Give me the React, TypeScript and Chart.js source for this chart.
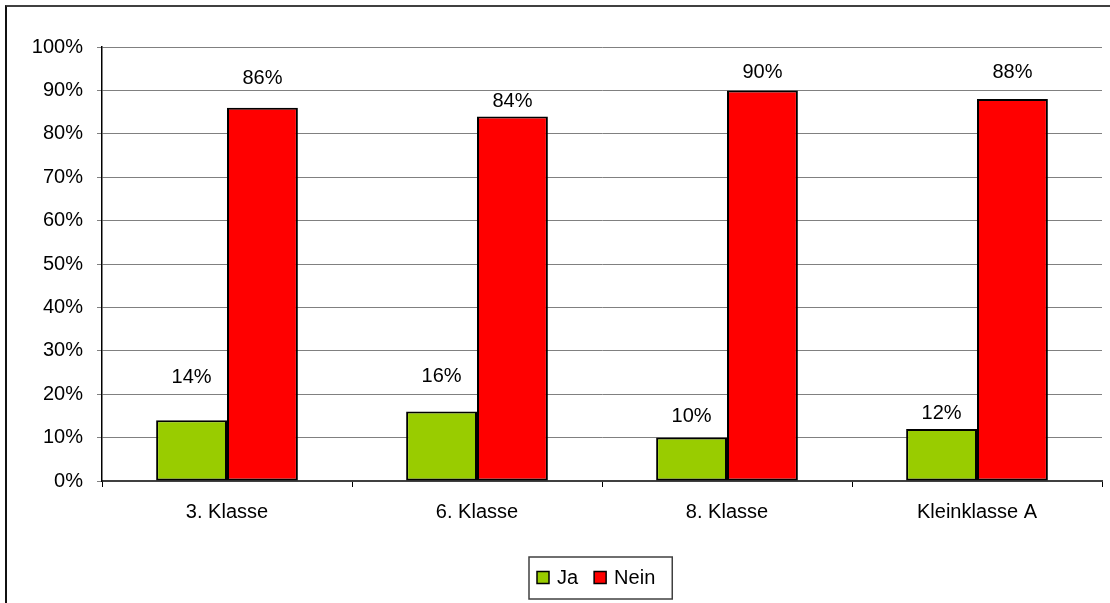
import React, { useEffect, useRef } from 'react';
import { Chart, registerables } from 'chart.js';

Chart.register(...registerables);

const categories = ['3. Klasse', '6. Klasse', '8. Klasse', 'Kleinklasse A'];
const seriesNames = ['Ja', 'Nein'];
const jaValues = [14, 16, 10, 12];
const neinValues = [86, 84, 90, 88];
const yMin = 0;
const yMax = 100;
const yStep = 10;

// style: how far each value label sits above its bar (px)
const jaLabelLift = [43, 35, 21, 15];
const neinLabelLift = [29, 15, 18, 27];

const FONT = '"Liberation Sans", Arial, Helvetica, sans-serif';

const valueLabelPlugin = {
  id: 'valueLabels',
  afterDatasetsDraw(chart: any) {
    const ctx = chart.ctx;
    ctx.save();
    ctx.font = `20px ${FONT}`;
    ctx.fillStyle = '#000';
    ctx.textAlign = 'center';
    ctx.textBaseline = 'middle';
    chart.data.datasets.forEach((ds: any, di: number) => {
      const meta = chart.getDatasetMeta(di);
      const lifts = ds.labelLift || [];
      meta.data.forEach((el: any, i: number) => {
        const v = ds.data[i];
        ctx.fillText(`${v}%`, el.x, el.y - (lifts[i] ?? 20));
      });
    });
    ctx.restore();
  },
};

const boxLegendPlugin = {
  id: 'boxLegend',
  afterDraw(chart: any) {
    const ctx = chart.ctx;
    const area = chart.chartArea;
    ctx.save();
    ctx.font = `20px ${FONT}`;
    const sq = 12;
    const gapText = 8;
    const gapItem = 16;
    const items = chart.data.datasets.map((ds: any) => ({
      label: ds.label,
      color: ds.backgroundColor,
      w: ctx.measureText(ds.label).width,
    }));
    const total = items.reduce(
      (s: number, it: any, i: number) => s + sq + gapText + it.w + (i ? gapItem : 0),
      0
    );
    const padL = 8;
    const padR = 17;
    const boxW = total + padL + padR;
    const cx = (area.left + area.right) / 2 - 1.5;
    const boxLeft = Math.round(cx - boxW / 2);
    const cy = area.bottom + 97;
    const boxH = 42;
    ctx.strokeStyle = '#404040';
    ctx.lineWidth = 1.5;
    ctx.strokeRect(boxLeft, cy - boxH / 2, boxW, boxH);
    let x = boxLeft + padL;
    items.forEach((it: any, i: number) => {
      if (i) x += gapItem;
      ctx.fillStyle = it.color;
      ctx.fillRect(x, cy - sq / 2 - 0.5, sq, sq);
      ctx.strokeStyle = '#000';
      ctx.lineWidth = 1.5;
      ctx.strokeRect(x, cy - sq / 2 - 0.5, sq, sq);
      x += sq + gapText;
      ctx.fillStyle = '#000';
      ctx.textAlign = 'left';
      ctx.textBaseline = 'middle';
      ctx.fillText(it.label, x, cy);
      x += it.w;
    });
    ctx.restore();
  },
};

export default function App() {
  const canvasRef = useRef<HTMLCanvasElement | null>(null);

  useEffect(() => {
    if (!canvasRef.current) return;
    Chart.defaults.font.family = FONT;
    Chart.defaults.font.size = 20;
    Chart.defaults.color = '#000';
    const chart = new Chart(canvasRef.current, {
      type: 'bar',
      data: {
        labels: categories,
        datasets: [
          {
            label: seriesNames[0],
            data: jaValues,
            backgroundColor: '#99CC00',
            borderColor: '#000',
            borderWidth: 2,
            borderSkipped: false,
            categoryPercentage: 0.567,
            barPercentage: 1,
            labelLift: jaLabelLift,
          } as any,
          {
            label: seriesNames[1],
            data: neinValues,
            backgroundColor: '#FF0000',
            borderColor: '#000',
            borderWidth: 2,
            borderSkipped: false,
            categoryPercentage: 0.567,
            barPercentage: 1,
            labelLift: neinLabelLift,
          } as any,
        ],
      },
      options: {
        responsive: false,
        animation: false,
        layout: { padding: { top: 47, right: 8, bottom: 72, left: 0 } },
        plugins: {
          legend: { display: false },
          tooltip: { enabled: false },
        },
        scales: {
          x: {
            grid: {
              display: true,
              drawOnChartArea: false,
              drawTicks: true,
              tickLength: 6,
              color: '#000',
              lineWidth: 1,
            },
            border: { display: true, color: '#404040', width: 2 },
            ticks: { padding: 13, color: '#000', font: { size: 20 } },
            afterFit: (scale: any) => {
              scale.height = 50;
            },
          },
          y: {
            min: yMin,
            max: yMax,
            ticks: {
              stepSize: yStep,
              padding: 14,
              color: '#000',
              font: { size: 20 },
              callback: (v: any) => `${v}%`,
            },
            grid: {
              color: '#808080',
              lineWidth: 1,
              drawTicks: true,
              tickLength: 5,
            },
            border: { display: true, color: '#000', width: 1.5 },
            afterFit: (scale: any) => {
              scale.width = 102;
            },
          },
        },
      },
      plugins: [valueLabelPlugin, boxLegendPlugin],
    });
    return () => chart.destroy();
  }, []);

  return (
    <div
      style={{
        position: 'absolute',
        left: 0,
        top: 0,
        width: 1110,
        height: 603,
        overflow: 'hidden',
        background: '#fff',
      }}
    >
      <canvas ref={canvasRef} width={1110} height={603} style={{ display: 'block' }} />
      <div
        style={{
          position: 'absolute',
          left: 5,
          top: 5,
          width: 1300,
          height: 800,
          borderTop: '2px solid #404040',
          borderLeft: '2px solid #111',
          pointerEvents: 'none',
        }}
      />
    </div>
  );
}
